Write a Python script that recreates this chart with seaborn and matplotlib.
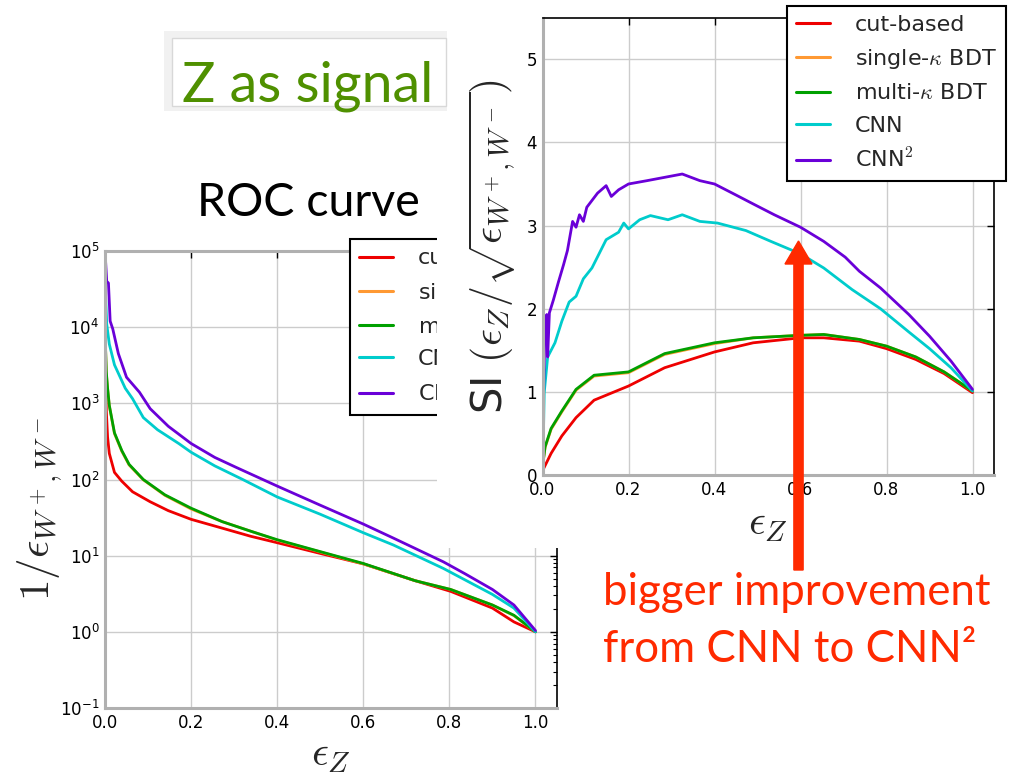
import numpy as np
import pandas as pd
import matplotlib
matplotlib.use("Agg")
import matplotlib.pyplot as plt
import seaborn as sns
from matplotlib.patches import Rectangle, FancyArrow

# ---------------- data ----------------
methods = ["cut-based", "single-$\\kappa$ BDT", "multi-$\\kappa$ BDT", "CNN", "CNN$^2$"]
colors = ["#ee0000", "#ff9933", "#00a000", "#00cccc", "#6a00d8"]

# ROC: 1/eps_bkg vs eps_Z
roc_cut_x = [0.001, 0.003, 0.006, 0.01, 0.022, 0.039, 0.064, 0.105, 0.147, 0.20, 0.272, 0.338, 0.40, 0.50, 0.60, 0.72, 0.803, 0.90, 0.95, 1.0]
roc_cut_y = [3000, 800, 360, 220, 124, 95, 69, 51, 39, 30, 23, 18, 14.8, 10.7, 7.8, 4.7, 3.4, 2.05, 1.35, 1.0]
roc_single_x = [0.001, 0.003, 0.006, 0.01, 0.022, 0.039, 0.056, 0.089, 0.139, 0.20, 0.272, 0.338, 0.40, 0.50, 0.60, 0.72, 0.803, 0.90, 0.95, 1.0]
roc_single_y = [6000, 2500, 1550, 930, 400, 235, 155, 99, 62, 41, 28, 21, 16.0, 11.2, 7.8, 4.7, 3.6, 2.25, 1.63, 1.0]
roc_multi_x = [0.001, 0.003, 0.006, 0.01, 0.022, 0.039, 0.056, 0.089, 0.139, 0.20, 0.272, 0.338, 0.40, 0.50, 0.60, 0.72, 0.803, 0.90, 0.95, 1.0]
roc_multi_y = [6000, 2600, 1580, 940, 410, 240, 158, 100, 63, 42, 28, 21, 16.2, 11.3, 7.9, 4.7, 3.6, 2.25, 1.65, 1.0]
roc_cnn_x = [0.001, 0.004, 0.01, 0.022, 0.047, 0.064, 0.089, 0.122, 0.172, 0.20, 0.255, 0.32, 0.40, 0.50, 0.60, 0.67, 0.786, 0.90, 0.95, 1.0]
roc_cnn_y = [29000, 11000, 6000, 3200, 1580, 1150, 650, 450, 295, 228, 151, 100, 59, 35, 20, 13.8, 6.8, 3.1, 2.05, 1.0]
roc_cnn2_x = [0.001, 0.004, 0.008, 0.012, 0.018, 0.031, 0.05, 0.08, 0.105, 0.147, 0.20, 0.255, 0.305, 0.40, 0.50, 0.60, 0.67, 0.786, 0.836, 0.90, 0.95, 1.0]
roc_cnn2_y = [80000, 40000, 38000, 12000, 9500, 4500, 2200, 1400, 850, 500, 297, 195, 144, 82, 46, 26, 17, 8.3, 5.8, 3.6, 2.25, 1.04]

# Significance improvement: eps_Z / sqrt(eps_bkg)
si_cut_x = [0.0, 0.02, 0.045, 0.078, 0.12, 0.20, 0.284, 0.40, 0.49, 0.60, 0.654, 0.737, 0.80, 0.868, 0.934, 1.0]
si_cut_y = [0.05, 0.26, 0.47, 0.69, 0.90, 1.07, 1.29, 1.48, 1.59, 1.65, 1.65, 1.61, 1.52, 1.39, 1.22, 0.99]
si_single_x = [0.0, 0.006, 0.02, 0.045, 0.078, 0.12, 0.20, 0.284, 0.40, 0.49, 0.60, 0.654, 0.737, 0.80, 0.868, 0.934, 1.0]
si_single_y = [0.1, 0.33, 0.55, 0.76, 1.02, 1.19, 1.23, 1.45, 1.58, 1.65, 1.68, 1.69, 1.63, 1.55, 1.42, 1.24, 1.01]
si_multi_x = [0.0, 0.006, 0.02, 0.045, 0.078, 0.12, 0.20, 0.284, 0.40, 0.49, 0.60, 0.654, 0.737, 0.80, 0.868, 0.934, 1.0]
si_multi_y = [0.1, 0.34, 0.56, 0.77, 1.03, 1.20, 1.24, 1.46, 1.59, 1.65, 1.68, 1.69, 1.63, 1.55, 1.42, 1.24, 1.01]
si_cnn_x = [0.0, 0.001, 0.004, 0.012, 0.029, 0.045, 0.062, 0.078, 0.095, 0.115, 0.148, 0.177, 0.189, 0.20, 0.226, 0.251, 0.292, 0.325, 0.366, 0.407, 0.473, 0.531, 0.60, 0.654, 0.72, 0.786, 0.852, 0.90, 0.95, 1.0]
si_cnn_y = [0.05, 0.17, 0.99, 1.42, 1.59, 1.85, 2.08, 2.15, 2.36, 2.49, 2.83, 2.92, 3.03, 2.96, 3.07, 3.12, 3.07, 3.13, 3.05, 3.03, 2.94, 2.81, 2.66, 2.49, 2.23, 2.00, 1.72, 1.52, 1.29, 1.01]
si_cnn2_x = [0.002, 0.006, 0.010, 0.012, 0.016, 0.025, 0.037, 0.049, 0.058, 0.07, 0.078, 0.086, 0.095, 0.103, 0.128, 0.148, 0.16, 0.177, 0.20, 0.243, 0.284, 0.325, 0.366, 0.40, 0.449, 0.49, 0.539, 0.60, 0.654, 0.704, 0.737, 0.786, 0.852, 0.90, 0.95, 1.0]
si_cnn2_y = [0.84, 1.85, 1.93, 1.42, 1.95, 2.10, 2.32, 2.53, 2.70, 3.05, 2.98, 3.13, 3.05, 3.22, 3.39, 3.48, 3.35, 3.43, 3.50, 3.54, 3.58, 3.62, 3.54, 3.50, 3.37, 3.26, 3.13, 2.98, 2.81, 2.62, 2.45, 2.25, 1.93, 1.67, 1.37, 1.03]

roc_x = [roc_cut_x, roc_single_x, roc_multi_x, roc_cnn_x, roc_cnn2_x]
roc_y = [roc_cut_y, roc_single_y, roc_multi_y, roc_cnn_y, roc_cnn2_y]
si_x = [si_cut_x, si_single_x, si_multi_x, si_cnn_x, si_cnn2_x]
si_y = [si_cut_y, si_single_y, si_multi_y, si_cnn_y, si_cnn2_y]

roc_xticks = [0.0, 0.2, 0.4, 0.6, 0.8, 1.0]
si_yticks = [0, 1, 2, 3, 4, 5]

title_text = "Z as signal"
roc_title = "ROC curve"
note_lines = ["bigger improvement", "from CNN to CNN²"]


def long_df(xs, ys):
    frames = []
    for m, x, y in zip(methods, xs, ys):
        frames.append(pd.DataFrame({"x": x, "y": y, "method": m}))
    return pd.concat(frames, ignore_index=True)


roc_df = long_df(roc_x, roc_y)
si_df = long_df(si_x, si_y)
palette = dict(zip(methods, colors))

# ---------------- style ----------------
sns.set_theme(style="white")
plt.rcParams["font.family"] = ["DejaVu Sans"]
plt.rcParams["mathtext.fontset"] = "cm"
plt.rcParams["axes.unicode_minus"] = False

W, H = 1024, 777
fig = plt.figure(figsize=(W / 100, H / 100), dpi=100)
fig.patch.set_facecolor("white")


def px_axes(x0, y0, x1, y1):
    return [x0 / W, (H - y1) / H, (x1 - x0) / W, (y1 - y0) / H]


def style_axes(ax, gray_top):
    ax.grid(True, color="#cccccc", lw=1.0)
    ax.set_axisbelow(True)
    ax.tick_params(axis="both", which="both", direction="in", top=True, right=True,
                   labelsize=12, colors="black", pad=4)
    ax.tick_params(which="major", length=5, width=1.0)
    ax.tick_params(which="minor", length=3, width=0.8)
    for s in ["left", "bottom"]:
        ax.spines[s].set_color("#b0b0b0")
        ax.spines[s].set_linewidth(2.2)
    ax.spines["right"].set_color("black")
    ax.spines["right"].set_linewidth(1.2)
    if gray_top:
        ax.spines["top"].set_color("#b0b0b0")
        ax.spines["top"].set_linewidth(2.2)
    else:
        ax.spines["top"].set_color("black")
        ax.spines["top"].set_linewidth(1.2)


def add_legend(ax, axw, axh):
    leg = ax.legend(loc="upper right", bbox_to_anchor=(1 + 12 / axw, 1 + 12 / axh),
                    borderaxespad=0, fontsize=16, labelspacing=0.55, handlelength=1.55,
                    handletextpad=1.1, borderpad=0.42, fancybox=False, framealpha=1,
                    edgecolor="black")
    leg.get_frame().set_linewidth(1.5)
    for line in leg.get_lines():
        line.set_linewidth(2.2)
    return leg


# ---------------- left: ROC ----------------
axL = fig.add_axes(px_axes(105, 251, 557, 708))
axL.set_zorder(0)
axL.set_yscale("log")
sns.lineplot(data=roc_df, x="x", y="y", hue="method", hue_order=methods, palette=palette,
             estimator=None, sort=False, lw=2.0, ax=axL)
axL.set_xlim(0, 1.05)
axL.set_ylim(1e-1, 1e5)
axL.set_xticks(roc_xticks)
axL.set_xticklabels([f"{t:.1f}" for t in roc_xticks])
style_axes(axL, gray_top=True)
axL.set_xlabel(r"$\epsilon_Z$", fontsize=30)
axL.set_ylabel(r"$1/\epsilon_{W^+,W^-}$", fontsize=31)
axL.xaxis.set_label_coords(0.5, -0.055)
axL.yaxis.set_label_coords(-0.09, 0.435)
add_legend(axL, 452, 457)

# white cover (right image pasted over left)
cover_x0, cover_y1 = 437, 548
fig.patches.append(Rectangle((cover_x0 / W, (H - cover_y1) / H), (W - cover_x0) / W, cover_y1 / H,
                             transform=fig.transFigure, facecolor="white",
                             edgecolor="none", zorder=1))

# ---------------- right: SI ----------------
axR = fig.add_axes(px_axes(542.5, 17.7, 994, 475))
axR.set_zorder(2)
axR.patch.set_alpha(0)
sns.lineplot(data=si_df, x="x", y="y", hue="method", hue_order=methods, palette=palette,
             estimator=None, sort=False, lw=2.0, ax=axR)
axR.set_xlim(0, 1.05)
axR.set_ylim(0, 5.5)
axR.set_xticks(roc_xticks)
axR.set_xticklabels([f"{t:.1f}" for t in roc_xticks])
axR.set_yticks(si_yticks)
style_axes(axR, gray_top=False)
axR.set_xlabel(r"$\epsilon_Z$", fontsize=30)
axR.set_ylabel(r"SI $(\epsilon_Z/\sqrt{\epsilon_{W^+,W^-}})$", fontsize=30)
axR.xaxis.set_label_coords(0.5, -0.06)
axR.yaxis.set_label_coords(-0.055, 0.5)
add_legend(axR, 451.5, 457.3)

# ---------------- slide decorations ----------------
fig.patches.append(Rectangle((164 / W, (H - 111) / H), (447 - 164) / W, (111 - 31) / H,
                             transform=fig.transFigure, facecolor="#f1f1f1",
                             edgecolor="none", zorder=3))
fig.patches.append(Rectangle((172 / W, (H - 106) / H), (446 - 172) / W, (106 - 38) / H,
                             transform=fig.transFigure, facecolor="white",
                             edgecolor="#d8d8d8", lw=1.0, zorder=3.1))
fig.text(182 / W, (H - 102) / H, title_text, fontsize=40, color="#4f9000",
         family=["Lato", "DejaVu Sans"], ha="left", va="baseline", zorder=4)

fig.text(197 / W, (H - 216) / H, roc_title, fontsize=33.5, color="black",
         family=["Lato", "DejaVu Sans"], ha="left", va="baseline", zorder=4)

# red arrow
arrow = FancyArrow(798.5 / W, (H - 570) / H, 0, (570 - 241) / H, width=7 / H,
                   head_width=27 / W, head_length=23 / H, length_includes_head=True,
                   transform=fig.transFigure, color="#ff2a00", zorder=5)
fig.patches.append(arrow)

for line, base in zip(note_lines, [605, 662]):
    fig.text(603 / W, (H - base) / H, line, fontsize=31.5, color="#ff2a00",
             family=["Lato", "DejaVu Sans"], ha="left", va="baseline", zorder=5)

fig.savefig("out.png", dpi=100, facecolor="white")
